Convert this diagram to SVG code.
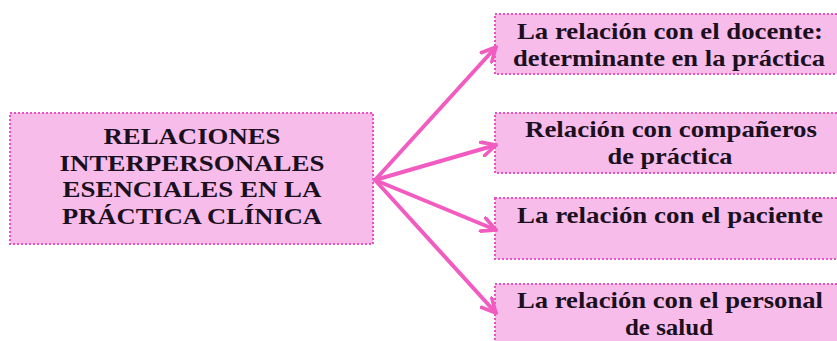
<svg xmlns="http://www.w3.org/2000/svg" width="837" height="341" viewBox="0 0 837 341">
<style>
.box{fill:#F8BCEB;stroke:#EE4FBF;stroke-width:2;stroke-dasharray:2 2}
.t{font-family:'Liberation Serif','DejaVu Serif',serif;font-weight:700;fill:#1a1020;text-anchor:middle;font-size:23px}
.r{font-size:24px}
.c{stroke:#F25CC0;stroke-width:4;fill:none;stroke-linecap:round}
</style>
<defs>
<marker id="ah" viewBox="0 0 12 12" refX="11" refY="6" markerWidth="17" markerHeight="17" markerUnits="userSpaceOnUse" orient="auto">
<path d="M1,1 L11,6 L1,11" fill="none" stroke="#F25CC0" stroke-width="2.6" stroke-linecap="round" stroke-linejoin="round"/>
</marker>
</defs>
<rect width="837" height="341" fill="#ffffff"/>
<g id="main">
<rect class="box" x="10" y="113" width="363" height="131"/>
<text class="t" x="192" y="144" textLength="177" lengthAdjust="spacingAndGlyphs">RELACIONES</text>
<text class="t" x="192" y="170.5" textLength="265" lengthAdjust="spacingAndGlyphs">INTERPERSONALES</text>
<text class="t" x="192" y="197" textLength="259" lengthAdjust="spacingAndGlyphs">ESENCIALES EN LA</text>
<text class="t" x="192" y="223.5" textLength="260" lengthAdjust="spacingAndGlyphs">PRÁCTICA CLÍNICA</text>
</g>
<g id="docente">
<rect class="box" x="495" y="14" width="350" height="60"/>
<text class="t r" x="670" y="38.5" textLength="306" lengthAdjust="spacingAndGlyphs">La relación con el docente:</text>
<text class="t r" x="669" y="66" textLength="312" lengthAdjust="spacingAndGlyphs">determinante en la práctica</text>
</g>
<g id="companeros">
<rect class="box" x="495" y="113" width="350" height="60"/>
<text class="t r" x="671" y="136.5" textLength="292" lengthAdjust="spacingAndGlyphs">Relación con compañeros</text>
<text class="t r" x="670" y="164" textLength="125" lengthAdjust="spacingAndGlyphs">de práctica</text>
</g>
<g id="paciente">
<rect class="box" x="495" y="198" width="350" height="61"/>
<text class="t r" x="670" y="223" textLength="306" lengthAdjust="spacingAndGlyphs">La relación con el paciente</text>
</g>
<g id="personal">
<rect class="box" x="495" y="284" width="350" height="70"/>
<text class="t r" x="670" y="307.5" textLength="306" lengthAdjust="spacingAndGlyphs">La relación con el personal</text>
<text class="t r" x="669" y="335" textLength="88" lengthAdjust="spacingAndGlyphs">de salud</text>
</g>
<g id="connectors">
<line class="c" x1="375" y1="180" x2="496" y2="47" marker-end="url(#ah)"/>
<line class="c" x1="375" y1="180" x2="496" y2="145" marker-end="url(#ah)"/>
<line class="c" x1="375" y1="180" x2="496" y2="230" marker-end="url(#ah)"/>
<line class="c" x1="375" y1="180" x2="496" y2="313" marker-end="url(#ah)"/>
</g>
</svg>
